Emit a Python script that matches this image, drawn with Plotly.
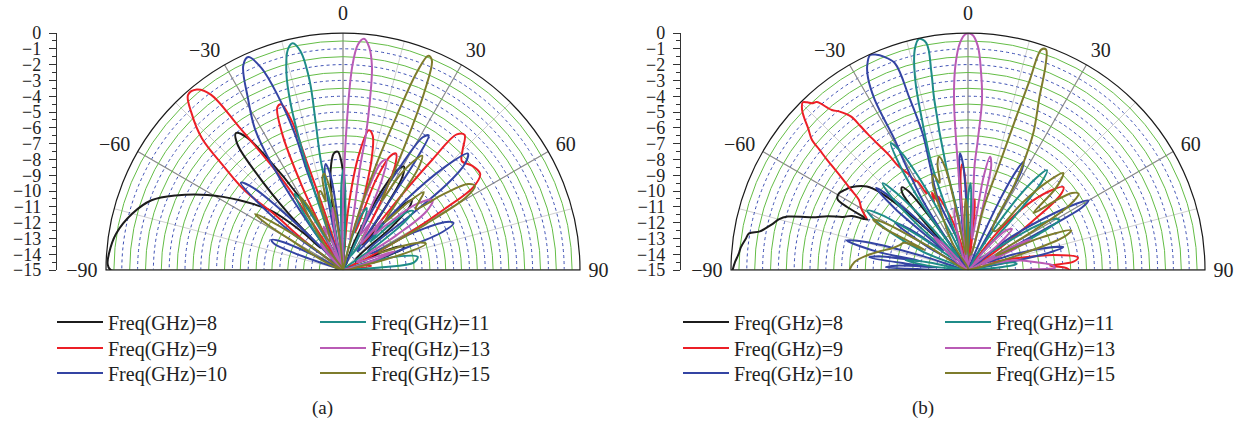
import plotly.graph_objects as go

# ---------------------------------------------------------------------------
# Normalised radiation patterns (dB) versus angle (deg), one list per frequency
# ---------------------------------------------------------------------------
FREQ_LABELS = ["8", "9", "10", "11", "13", "15"]
COLORS = ["#1c1c1c", "#ec1f26", "#3444a3", "#1f8c88", "#b95bb5", "#7e7c2c"]

# ---- panel (a) ----
A8 = [(-90, -15), (-90, -0.3), (-88.5, -0.1), (-86, -0.15), (-81, -0.45), (-75, -1.2), (-70, -2.1),
      (-66, -3.4), (-61, -5.2), (-56, -7.1), (-50.5, -9.1), (-47, -11.5), (-45.5, -13), (-44, -10),
      (-42, -7), (-40, -4.6), (-38, -4.0), (-36, -4.6), (-34, -6.5), (-31, -9.5), (-27, -12.5),
      (-22, -15), (-12, -13), (-9, -10.5), (-7, -8.6), (-4.5, -7.6), (-2.5, -7.5), (-0.5, -8.4),
      (1.5, -10.5), (4, -13), (8, -15), (22, -13), (26, -9.5), (28.5, -7.8), (30.5, -7.4),
      (32.5, -8), (34, -10), (37, -13), (40, -11.5), (42.5, -9.5), (44.5, -8.8), (46.5, -9.2),
      (48.5, -11), (52, -14), (62, -14), (65.5, -12), (68, -11), (70, -10.9), (72, -11.8),
      (75, -14), (80, -15), (90, -15)]
A9 = [(-56, -15), (-53, -12), (-51, -9.5), (-51, -7), (-49, -5), (-47, -2.8), (-44, -1.2),
      (-41.5, -0.2), (-39, -0.3), (-37, -1.1), (-36, -3.8), (-34, -7.7), (-33, -11), (-31, -14),
      (-28, -13), (-26, -9), (-24, -5.5), (-22, -3.9), (-20.5, -3.8), (-19, -5), (-18.5, -8),
      (-17.5, -11.5), (-14, -15), (2, -15), (5, -11), (8, -7.5), (10.5, -6.0), (12.5, -6.3),
      (14.5, -7.8), (16, -10), (18, -12.5), (20, -9), (22.5, -7.2), (24.5, -6.9), (26.5, -7.6),
      (28.5, -9.5), (31, -12), (35, -13), (38, -9), (39, -6), (40, -3.8), (42, -3.5), (45, -4.3),
      (47.5, -4.8), (51, -4.5), (55, -4.4), (57.5, -5.2), (59, -7.5), (61, -10.5), (64, -13.5),
      (70, -15), (78, -13.5), (82, -13.2), (86, -15), (90, -15)]
A10 = [(-75, -15), (-71, -12), (-69, -10.3), (-67, -10.1), (-65, -10.8), (-63, -13), (-58, -15),
       (-54, -11), (-51.5, -8), (-49.5, -6.5), (-47.5, -7.3), (-46, -9.5), (-44, -13), (-40, -15),
       (-37, -12), (-34, -7), (-32, -4.5), (-29, -2.6), (-26, -0.6), (-24, -0.25), (-22, -1.2),
       (-20.5, -3.2), (-19.5, -5.8), (-20, -8.5), (-19.5, -11), (-16, -14), (-12.5, -11.5),
       (-11, -9), (-9.3, -8.2), (-7.5, -9), (-6, -11.5), (-3, -15), (22, -15), (26, -11),
       (29, -7.5), (31, -5.2), (32.5, -4.9), (33.5, -6.5), (34, -9.5), (35, -13), (38, -13.5),
       (42, -9), (44.5, -6), (47, -4.2), (49, -4.8), (50.5, -6.5), (51, -9.5), (53, -13),
       (58, -13), (62, -10), (65, -7.8), (67, -7.4), (69, -8.2), (70.5, -10.5), (73, -13.5),
       (80, -15), (90, -15)]
A11 = [(-45, -15), (-38, -13), (-34.5, -10.5), (-32.5, -9.3), (-30.5, -10.2), (-28, -13),
       (-24, -15), (-21, -12), (-19, -7.5), (-17.5, -4), (-16, -2), (-14, -0.6), (-12.5, -0.3),
       (-11, -0.9), (-10, -2.8), (-10.5, -5.5), (-11.5, -8), (-10.5, -11.5), (-6, -15),
       (-2.5, -12.5), (-1, -9.5), (0.2, -8.6), (1.5, -9.8), (3, -13), (6, -15), (14, -13.5),
       (18, -11.5), (21, -10.8), (24, -12), (28, -14), (34, -13), (38, -11.5), (41, -11.2),
       (44, -12.5), (46, -11), (48, -9.5), (50, -9.2), (52, -10), (54, -12.5), (60, -15),
       (72, -14), (76, -11.5), (80, -10.2), (84, -10.5), (86, -12.5), (87, -14.5), (90, -15)]
A13 = [(-48, -15), (-43, -13.5), (-40, -12.8), (-37, -13.5), (-33, -15), (-27, -13), (-24, -12),
       (-21, -13), (-17, -15), (-12, -12.5), (-9.5, -11), (-7, -12.5), (-3, -15), (-1, -13),
       (0, -11), (1.3, -6.4), (2.6, -2.1), (3.8, -0.7), (5.2, -0.3), (6.7, -0.8), (8.1, -2.0),
       (9, -4.1), (9.6, -6.2), (9.4, -8.4), (10.5, -11), (13, -13), (17, -10), (19.5, -7.8),
       (21.5, -7.5), (23.5, -9), (26, -12.5), (30, -11.6), (34, -13), (38, -11), (41, -12),
       (44, -11), (48, -8.8), (52, -7.8), (55, -8.6), (57, -11), (60, -14), (66, -13.5),
       (70, -11.5), (74, -13.5), (80, -15), (90, -15)]
A15 = [(-64, -15), (-60, -11), (-58.5, -9), (-57.5, -8.4), (-56, -9.5), (-53, -12.5), (-48, -15),
       (-36, -13), (-32, -10.5), (-30.5, -9.6), (-28.5, -10.5), (-25, -13), (-20, -12), (-18, -10),
       (-16, -9.8), (-14, -10.5), (-12.5, -9), (-11, -8.8), (-9, -10), (-6, -13), (-3, -15),
       (12, -15), (15, -12), (17.5, -8), (19.2, -4.7), (20.5, -1.6), (21.7, -0.4), (23, -0.6),
       (24.5, -2.5), (26, -5.4), (27.5, -8), (29, -10), (31, -8), (33, -6.8), (34.7, -6.2),
       (36.5, -7), (38.5, -9.5), (41, -11), (44, -9), (46, -7.9), (48, -8.5), (50, -9), (53, -7),
       (55.5, -5.4), (57.5, -5.1), (59.5, -6), (61, -9), (64, -12.5), (68, -11), (70.5, -9.8),
       (72.5, -9.5), (75, -11), (78, -14), (90, -15)]

# ---- panel (b) ----
B8 = [(-90, -0.1), (-88, -0.25), (-86, -0.45), (-84.3, -0.55), (-82, -0.8), (-80.5, -0.95),
      (-79.5, -1.6), (-78, -2.0), (-76.7, -2.3), (-75, -2.6), (-73.5, -3.1), (-71.3, -4.6),
      (-69, -5.5), (-67, -6.4), (-65, -6.9), (-64, -7.6), (-63.3, -7.9), (-62.5, -6.4),
      (-61.5, -5.6), (-59.3, -5.5), (-57, -5.7), (-55, -5.9), (-53, -6.2), (-50.5, -6.7),
      (-48.5, -7.6), (-47, -9.2), (-45.5, -11), (-44, -12.5), (-43, -12.3), (-42, -10.5),
      (-40.5, -8.6), (-38.5, -8.3), (-37, -8.8), (-36, -10.5), (-35, -12.5), (-33, -14.5),
      (-30, -15)]
B9 = [(-63, -7.8), (-60, -7.2), (-57.3, -6.8), (-55.5, -6.0), (-54.2, -5.3), (-53, -4.5),
      (-52, -3.7), (-51, -2.9), (-50.2, -2.15), (-48.5, -1.5), (-47, -0.8), (-46, -0.4),
      (-44.6, -0.1), (-43.8, -0.3), (-43.1, -0.55), (-42, -0.7), (-40.4, -1.7), (-39, -2.1),
      (-37.3, -2.8), (-36.8, -3.6), (-36.4, -4.3), (-35.5, -5.3), (-34.5, -6.2), (-33.8, -7.1),
      (-32, -7.8), (-30.8, -8.4), (-29.5, -8.6), (-28.5, -9.5), (-27.5, -9.3), (-26.5, -10.2),
      (-25, -9.6), (-23.5, -10.4), (-22, -10), (-20, -10.8), (-18, -11.5), (-16, -12.5),
      (-13, -14), (-10, -15), (-6, -12), (-4.5, -9), (-3.2, -8.3), (-2, -9), (-1, -11),
      (0, -14), (2, -15), (4, -12), (5.5, -10.5), (6.5, -11.5), (8, -14), (12, -15), (25, -15),
      (38, -12), (42, -9.5), (46, -7.8), (49, -7.0), (51, -7.5), (53, -10), (56, -13), (62, -15),
      (66, -12.5), (70, -13.5), (76, -12), (80, -9.5), (83.5, -8.0), (85.5, -8.3), (87, -9.8),
      (88.5, -8.9), (90, -8.6), (90, -15)]
B10 = [(-90, -15), (-89, -12), (-88, -9.8), (-86.5, -10.5), (-85, -13), (-84, -11), (-82.7, -8.7),
       (-81, -9.5), (-79.5, -12), (-78.5, -9), (-76.3, -7.1), (-74.5, -8.5), (-73, -12), (-68, -15),
       (-60, -12), (-57, -9.5), (-55, -10.5), (-52, -13), (-50, -9), (-48.2, -7.2), (-46.5, -8.5),
       (-44, -12.5), (-40, -15), (-35, -13), (-33, -9.7), (-30.5, -7), (-29.4, -5.6), (-28.7, -2.7),
       (-27.5, -1.3), (-26.3, -0.6), (-24.5, -0.05), (-23, -0.2), (-21.7, -0.45), (-19.5, -1.1),
       (-18.8, -3.5), (-18.4, -5.9), (-20, -8), (-23, -10.2), (-19, -13), (-12, -15), (-7, -12),
       (-5, -8.5), (-3.9, -7.6), (-2.5, -8.5), (-1, -12), (2, -15), (22, -14), (24.5, -10),
       (26, -8), (27.1, -7.3), (28.3, -7.8), (29, -10), (30, -13.5), (42, -15), (52, -12),
       (56, -9), (58.5, -7), (60, -6.2), (61.3, -6.8), (62, -9), (63, -12), (66, -14), (71, -12),
       (74, -10), (76.5, -8.8), (78, -9.8), (79, -12), (81, -15), (90, -15)]
B11 = [(-90, -15), (-84, -12.5), (-81, -11), (-79, -12.5), (-75, -15), (-68, -12), (-64, -9.5),
       (-61, -8), (-59.4, -7.6), (-57.5, -8.5), (-55, -11.5), (-51, -14), (-48, -10.5), (-46, -8),
       (-44.5, -7.3), (-43, -8.3), (-41, -11), (-38, -14), (-35, -10), (-33, -7), (-31.3, -5.6),
       (-29.5, -6.5), (-27.5, -9), (-25, -12.5), (-22, -14), (-19, -8), (-17, -5), (-15.5, -2.5),
       (-13.6, -0.66), (-12, -0.05), (-10.4, -0.4), (-10.5, -2.3), (-11.2, -4), (-11.9, -8.3),
       (-10, -11.5), (-7, -14), (-2, -12.5), (0.5, -10), (1.8, -9.5), (3, -11.5), (5, -15),
       (30, -14), (34, -10), (36.5, -7.8), (38.4, -6.95), (40, -7.8), (41, -10.5), (43, -14),
       (52, -13), (57, -10), (59.5, -8.6), (61.3, -8.4), (63, -9.8), (65, -13), (72, -15),
       (78, -13.5), (81, -12), (83, -11.9), (85, -12.8), (87, -15), (90, -15)]
B13 = [(-60, -15), (-50, -13.5), (-46, -12), (-43, -13), (-38, -15), (-20, -14), (-14, -11.5),
       (-12, -11), (-10, -12), (-7, -15), (-6, -12), (-5.5, -8.4), (-4.7, -4.2), (-3.5, -2.0),
       (-2, -0.6), (-0.5, -0.05), (1, -0.1), (2.5, -0.8), (3.8, -2.5), (4.7, -4.2), (4.3, -6.8),
       (3.6, -8.4), (4.5, -11), (7, -13), (9.5, -9), (11, -7.7), (12.5, -8.2), (13, -10), (14, -13),
       (20, -15), (40, -13.5), (44, -11.5), (47, -11.2), (50, -12.5), (55, -15), (62, -12),
       (64, -10.6), (66, -12), (70, -14), (78, -12), (84, -10.5), (87, -9.6), (88.5, -9.5),
       (89.5, -11), (90, -15)]
B15 = [(-90, -7.5), (-86, -7.8), (-82, -8.5), (-78, -9.3), (-74, -10), (-70, -10.4), (-67, -10.6),
       (-65, -12), (-63.5, -9), (-62, -8.2), (-60.5, -9), (-59, -12), (-55, -15), (-30, -13),
       (-25, -11), (-22, -9), (-20, -8.6), (-18, -9.2), (-16, -8), (-14.2, -7.6), (-12.5, -8.4),
       (-11, -11.5), (-8, -14), (-4, -12), (-2, -10.5), (0, -11.5), (3, -14), (10, -14), (14, -11),
       (16.5, -8.1), (17.5, -4.8), (18, -2.5), (18.4, -0.3), (19.5, -0.2), (20.8, -1.2),
       (22.5, -3.2), (25.5, -5.4), (27.5, -7.5), (28.7, -9), (31, -12), (35, -12), (39, -9.5),
       (42, -7.5), (44.5, -6.4), (47, -7.4), (49, -9.5), (51.5, -8), (53.5, -6.8), (55.4, -6.5),
       (57.5, -7.4), (59, -10), (62, -13), (66, -10), (69, -8), (71, -8.6), (73, -11), (76, -14),
       (90, -15)]

PANEL_A = [A8, A9, A10, A11, A13, A15]
PANEL_B = [B8, B9, B10, B11, B13, B15]

# axis settings
R_MIN, R_MAX = -15, 0
ANGLE_TICKS = [-90, -75, -60, -45, -30, -15, 0, 15, 30, 45, 60, 75, 90]
ANGLE_LABELS = ["\u221290", "", "\u221260", "", "\u221230", "", "0", "", "30", "", "60", "", "90"]
MAJOR_SPOKES = [-60, -30, 0, 30, 60]
SOLID_RINGS = [-14.5 + i for i in range(15)]
DOTTED_RINGS = [-14 + i for i in range(14)]

SERIF = "Liberation Serif"
W, H = 1242, 430

# pixel geometry of the two half-disc panels: (left edge, right edge)
PANELS = [(106, 580), (731, 1205)]
TOP_PX, BASE_PX = 33, 270
Y_DOM = [(H - BASE_PX) / H, (H - TOP_PX) / H]

# legend layout: column x (px) per panel and row centres (px)
LEGEND_COLS = [(58, 321), (684, 946)]
LEGEND_ROWS = [322, 348, 373]

fig = go.Figure()
layout = dict(template="none", width=W, height=H, margin=dict(l=0, r=0, t=0, b=0, pad=0),
              paper_bgcolor="white", plot_bgcolor="white", showlegend=True)


def grid_polar(x0, x1):
    return dict(
        domain=dict(x=[x0 / W, x1 / W], y=Y_DOM), sector=[0, 180], bgcolor="white",
        angularaxis=dict(rotation=90, direction="clockwise", tickvals=ANGLE_TICKS,
                         showticklabels=False, ticks="", showline=False,
                         showgrid=True, gridcolor="#d0d0d0", gridwidth=1),
        radialaxis=dict(range=[R_MIN, R_MAX], tickvals=DOTTED_RINGS, showticklabels=False,
                        ticks="", showline=False, gridcolor="#3c4fb4", griddash="dot",
                        gridwidth=1),
    )


def data_polar(x0, x1):
    return dict(
        domain=dict(x=[x0 / W, x1 / W], y=Y_DOM), sector=[0, 180], bgcolor="rgba(0,0,0,0)",
        angularaxis=dict(rotation=90, direction="clockwise", tickvals=ANGLE_TICKS,
                         ticktext=ANGLE_LABELS, ticks="outside", ticklen=4,
                         tickcolor="rgba(0,0,0,0)", showgrid=False, showline=True,
                         linecolor="#1a1a1a", linewidth=1.2,
                         tickfont=dict(family=SERIF, size=20, color="#222")),
        radialaxis=dict(range=[R_MIN, R_MAX], tickvals=SOLID_RINGS, showticklabels=False,
                        ticks="", showline=False, gridcolor="#64bd46", gridwidth=1),
    )


leg_idx = 1
for k, ((x0, x1), series) in enumerate(zip(PANELS, [PANEL_A, PANEL_B])):
    gid = "polar" if k == 0 else "polar3"
    did = "polar2" if k == 0 else "polar4"
    layout[gid] = grid_polar(x0, x1)
    layout[did] = data_polar(x0, x1)

    # darker spokes every 30 degrees and the base diameter
    for a in MAJOR_SPOKES:
        fig.add_trace(go.Scatterpolar(theta=[a, a], r=[R_MIN, R_MAX], mode="lines",
                                      line=dict(color="#8a8a8a", width=1.1),
                                      subplot=gid, showlegend=False, hoverinfo="skip"))
    fig.add_trace(go.Scatterpolar(theta=[-90, -90, 90], r=[R_MAX, R_MIN, R_MAX], mode="lines",
                                  line=dict(color="#8f8f8f", width=1.6),
                                  subplot=gid, showlegend=False, hoverinfo="skip"))

    for i, (pts, col, lab) in enumerate(zip(series, COLORS, FREQ_LABELS)):
        leg = "legend" if leg_idx == 1 else f"legend{leg_idx}"
        leg_idx += 1
        fig.add_trace(go.Scatterpolar(
            theta=[p[0] for p in pts], r=[p[1] for p in pts], mode="lines",
            line=dict(color=col, width=2, shape="spline", smoothing=1.0),
            name=f"Freq(GHz)={lab}", subplot=did, legend=leg))
        col_x = LEGEND_COLS[k][i // 3]
        row_y = LEGEND_ROWS[i % 3]
        layout[leg] = dict(x=(col_x - 6) / W, y=(H - row_y) / H, xanchor="left",
                           yanchor="middle", bgcolor="rgba(0,0,0,0)", borderwidth=0,
                           itemwidth=46,
                           font=dict(family=SERIF, size=20, color="#222"))

    # vertical dB scale beside each panel
    ax_px = 57 if k == 0 else 681
    xa = "xaxis" if k == 0 else "xaxis2"
    ya = "yaxis" if k == 0 else "yaxis2"
    layout[xa] = dict(domain=[ax_px / W, (ax_px + 2) / W], range=[0, 1], visible=False,
                      fixedrange=True, automargin=False)
    layout[ya] = dict(domain=Y_DOM, range=[R_MIN, R_MAX], anchor="x" if k == 0 else "x2",
                      side="left", dtick=1, tick0=0, ticks="outside", ticklen=7,
                      tickwidth=1.2, tickcolor="#333", showline=True, linecolor="#333",
                      linewidth=1.3, showgrid=False, zeroline=False, automargin=False,
                      ticklabelstandoff=4,
                      minor=dict(dtick=0.5, ticks="outside", ticklen=4, tickcolor="#333",
                                 tickwidth=1, showgrid=False),
                      tickfont=dict(family=SERIF, size=18, color="#222"))
    fig.add_trace(go.Scatter(x=[], y=[], xaxis="x" if k == 0 else "x2",
                             yaxis="y" if k == 0 else "y2", showlegend=False))

layout["annotations"] = [
    dict(text="(a)", x=310 / W, y=(H - 421) / H, xref="paper", yref="paper", showarrow=False,
         font=dict(family=SERIF, size=19, color="#222")),
    dict(text="(b)", x=936 / W, y=(H - 421) / H, xref="paper", yref="paper", showarrow=False,
         font=dict(family=SERIF, size=19, color="#222")),
]

fig.update_layout(**layout)
fig.write_html("out.html")
